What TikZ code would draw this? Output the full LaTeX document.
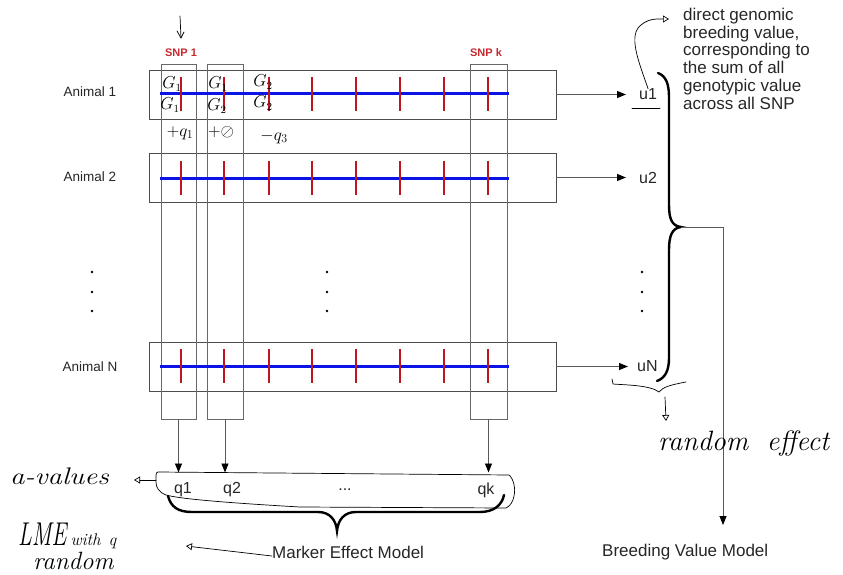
\documentclass[tikz,border=0pt]{standalone}
\usepackage{fontspec}
\setsansfont{Liberation Sans}
\usetikzlibrary{arrows.meta}
\definecolor{snpred}{HTML}{C0141E}
\definecolor{chrblue}{HTML}{0A14E6}
\definecolor{boxgray}{HTML}{4D4D4D}
\definecolor{labred}{HTML}{C62A2F}
\tikzset{
  lbl/.style={font=\sffamily\fontsize{#1}{#1}\selectfont, inner sep=0pt, text=black!85},
  lbl/.default=14,
  hw/.style={font=\rmfamily\itshape\fontsize{#1}{#1}\selectfont, inner sep=0pt},
  hw/.default=20,
  snplbl/.style={font=\sffamily\bfseries\fontsize{11}{11}\selectfont, inner sep=0pt, text=labred},
  animbox/.style={draw=boxgray, line width=0.9pt, minimum width=407pt, minimum height=49pt, inner sep=0pt},
  snpbox/.style={draw=boxgray!85, line width=0.9pt, minimum height=355pt, inner sep=0pt},
  chrom/.style={draw=chrblue, line width=3pt},
  marker/.style={draw=snpred, line width=2.4pt},
  arr/.style={draw=black!65, line width=0.8pt, -{Triangle[length=9pt,width=7pt,color=black]}},
  thinline/.style={draw=black!65, line width=0.8pt},
  handline/.style={draw=black, line width=0.7pt, line cap=round, line join=round},
  handtip/.style={handline, -{Triangle[open,length=6pt,width=7pt]}},
  brace/.style={draw=black, line width=2.4pt, line cap=round},
}
\begin{document}
\begin{tikzpicture}[x=1pt,y=-1pt]
\useasboundingbox (0,0) rectangle (843,575);

% animal rows
\node[animbox] (a1) at (352.5,94.5) {};
\node[animbox] (a2) at (352.5,177.5) {};
\node[animbox] (aN) at (352.5,366.5) {};
\node[lbl=13.5] (la1) at (90,92) {Animal 1};
\node[lbl=13.5] (la2) at (90,177) {Animal 2};
\node[lbl=13.5] (laN) at (90,367) {Animal N};

% SNP columns
\node[snpbox, minimum width=35pt] (s1) at (178.5,241.5) {};
\node[snpbox, minimum width=36pt] (s2) at (225,241.5) {};
\node[snpbox, minimum width=37pt] (sk) at (488.5,241.5) {};
\node[snplbl] (ls1) at (181,53) {SNP 1};
\node[snplbl] (lsk) at (486,53) {SNP k};

% chromosomes with markers
\foreach \yy in {94,178,366}{
  \draw[chrom] (160,\yy) -- (509,\yy);
  \foreach \xx in {181,224,269,312,356,400,444,488}{
    \draw[marker] (\xx,\yy-17) -- (\xx,\yy+17);
  }
}

% dots
\foreach \xx in {92,327,642}{
  \foreach \yy in {272,292,311}{
    \fill[black] (\xx,\yy) circle (1.3);
  }
}

% breeding values
\node[lbl=16, anchor=west, inner xsep=13pt] (u1) at (626,94.5) {u1};
\node[lbl=16, anchor=west, inner xsep=13pt] (u2) at (626,177.5) {u2};
\node[lbl=16, anchor=west, inner xsep=9pt] (uN) at (628,366.5) {uN};
\draw[arr] (a1.east) -- (u1.west);
\draw[arr] (a2.east) -- (u2.west);
\draw[arr] (aN.east) -- (uN.west);

% right brace
\draw[brace] (658,73) .. controls (666,76) and (669,84) .. (669,97) -- (669,205)
  .. controls (669,219) and (672,226) .. (681,227)
  .. controls (672,228) and (669,236) .. (669,250) -- (669,358)
  .. controls (669,371) and (665,378) .. (657,381);
\coordinate (bt) at (681,227);
\coordinate (bc) at (723,227);
\coordinate (be) at (723,525);
\draw[thinline] (bt) -- (bc);
\draw[arr] (bc) -- (be);
\node[lbl=17, anchor=west] (bvm) at (602,552) {Breeding Value Model};

% annotation text
\node[anchor=north west, align=left, inner sep=0pt, text=black!85,
  font=\sffamily\fontsize{17}{17.7}\selectfont] (dgbv) at (683,8)
  {direct genomic\\breeding value,\\corresponding to\\the sum of all\\genotypic value\\across all SNP};
\coordinate (ann) at (669,19);
\draw[handtip] (u1.north) .. controls (638,60) and (628,35) .. (641,25)
  .. controls (649,18) and (659,19) .. (ann);
\draw[handline] (632,108) -- (660,108);

% marker effects box
\coordinate (qt) at (0,472.5);
\draw[handline] (158,472) -- (509,475) .. controls (513,478) and (516,488) .. (514,496)
  .. controls (513,502) and (510,506) .. (506,508) -- (300,507)
  .. controls (230,503) and (180,499) .. (166,495)
  .. controls (159,492) and (156,488) .. (156,482) -- (156,475)
  .. controls (156,473) and (157,472) .. (158,472);
\node[lbl=16] (q1) at (183,490) {q1};
\node[lbl=16] (q2) at (232,490) {q2};
\node[lbl=16] (qd) at (345,490) {...};
\node[lbl=16] (qk) at (486,490) {qk};
\draw[arr] (s1.south) -- (s1.south |- qt);
\draw[arr] (s2.south) -- (s2.south |- qt);
\draw[arr] (sk.south) -- (sk.south |- qt);

% brace under marker effects
\draw[brace] (168,496) .. controls (171,507) and (178,512) .. (192,512) -- (318,512)
  .. controls (330,512) and (336,520) .. (337,531)
  .. controls (338,520) and (344,512) .. (356,512) -- (480,512)
  .. controls (494,512) and (502,505) .. (504,495);
\node[lbl=17, anchor=west] (mem) at (272,552) {Marker Effect Model};
\coordinate (memtip) at (186,546);
\draw[handtip] ([yshift=-4pt]mem.west) -- (memtip);

% handwritten notes
\coordinate (spt) at (181,38);
\draw[handline] (180,16) -- (spt);
\draw[handline] (177,31) -- (spt) -- (184,32);

\node[hw=16] (g11) at (172,84) {$G_1$};
\node[hw=16] (g12) at (170,105) {$G_1$};
\node[hw=16] (g21) at (218,84) {$G_1$};
\node[hw=16] (g22) at (217,106) {$G_2$};
\node[hw=16] (g31) at (263,82) {$G_2$};
\node[hw=16] (g32) at (263,103) {$G_2$};
\node[hw=18] (e1) at (180,133) {$+q_1$};
\node[hw=18] (e2) at (221,132) {$+\oslash$};
\node[hw=18] (e3) at (274,137) {$-q_3$};

% random effect note
\draw[handline] (612,379) -- (613,384) .. controls (625,385) and (650,385) .. (659,392)
  .. controls (663,387) and (670,385) .. (686,382);
\coordinate (retip) at (666,421);
\draw[handtip] (665,397) -- (retip);
\node[hw=28, anchor=base west] (re) at (658,450) {random\hspace{9pt} effect};

% q-values note
\coordinate (qw) at (156,480);
\coordinate (avtip) at (134,480);
\draw[handtip] (qw) -- (avtip);
\node[hw=24, anchor=base west] (av) at (10,484) {\scalebox{1.2}[1]{a-values}};

% LME note
\node[hw=33, anchor=base west] (lme) at (18,545)
  {\scalebox{0.68}[1]{LME}\hspace{4pt}{\fontsize{17}{17}\selectfont with\hspace{8pt}q}};
\node[hw=25, anchor=base west] (lmer) at (33,569) {random};
\end{tikzpicture}
\end{document}
